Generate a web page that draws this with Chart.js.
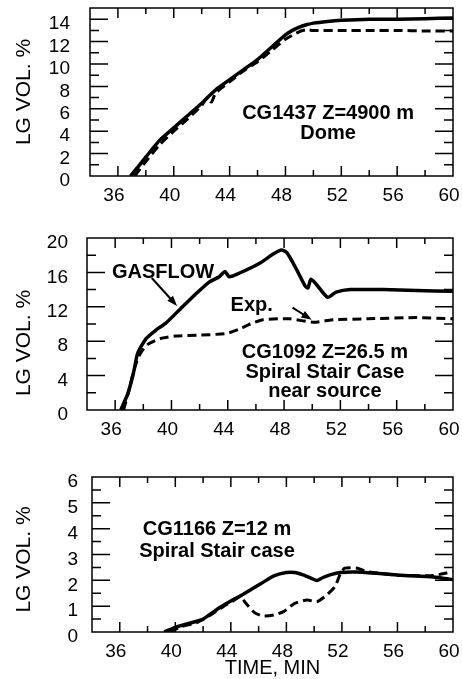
<!DOCTYPE html>
<html>
<head>
<meta charset="utf-8">
<script src="https://cdn.jsdelivr.net/npm/chart.js@4.4.0/dist/chart.umd.min.js"></script>
<style>
  body { margin: 0; background: #fff; width: 462px; height: 679px; overflow: hidden; position: relative; }
  .panel { position: absolute; left: 0; width: 462px; }
</style>
</head>
<body>
<div class="panel" style="top:0;height:215px"><canvas id="c1"></canvas></div>
<div class="panel" style="top:220px;height:225px"><canvas id="c2"></canvas></div>
<div class="panel" style="top:445px;height:234px"><canvas id="c3"></canvas></div>
<script>
// panel 1 - CG1437 dome
const t1Gas = [36.9, 37.5, 38, 39, 40, 41, 42, 42.5, 43, 44, 45, 46, 47, 48, 48.5, 49, 49.5, 50, 51, 52, 54, 56, 58, 60];
const v1Gas = [0, 0.9, 1.7, 3.2, 4.3, 5.4, 6.5, 7.1, 7.7, 8.6, 9.5, 10.4, 11.5, 12.6, 13.0, 13.3, 13.5, 13.65, 13.8, 13.9, 14.0, 14.0, 14.05, 14.1];
const t1Exp = [37.2, 38, 39, 40, 41, 42, 42.4, 42.7, 43, 44, 45, 46, 47, 48, 49, 49.5, 50, 52, 54, 56, 58, 60];
const v1Exp = [0, 1.3, 2.8, 4.0, 5.1, 6.3, 7.0, 6.6, 7.4, 8.4, 9.4, 10.2, 11.2, 12.2, 12.9, 13.05, 13.0, 13.0, 13.0, 13.0, 12.95, 12.95];

// panel 2 - CG1092 spiral stair case near source
const t2Gas = [36.4, 36.9, 37.3, 37.6, 38.2, 38.9, 39.6, 40.6, 41.8, 42.7, 43.4, 43.8, 44.1, 44.8, 46.3, 47.2, 47.8, 48.2, 48.9, 49.5, 49.7, 49.9, 50.3, 51.1, 51.7, 52.7, 55, 57.4, 60];
const v2Gas = [0, 1.9, 4.3, 6.6, 8.3, 9.3, 10.1, 11.7, 13.6, 14.9, 15.5, 16.1, 15.5, 15.9, 17.1, 18.1, 18.6, 18.3, 16.3, 14.4, 14.2, 15.2, 14.6, 13.1, 13.7, 14.0, 14.0, 13.9, 13.8];
const t2Exp = [36.6, 37.0, 37.4, 37.8, 38.3, 39.2, 40.3, 42, 43.9, 44.8, 45.6, 46.5, 48.4, 50.1, 51.5, 53.9, 57.4, 60];
const v2Exp = [0, 2.4, 5.0, 6.6, 7.6, 8.3, 8.6, 8.7, 8.9, 9.4, 10.0, 10.5, 10.6, 10.2, 10.5, 10.6, 10.75, 10.6];

// panel 3 - CG1166 spiral stair case
const t3Gas = [39.2, 40.1, 41.1, 42.0, 43.2, 44.0, 44.7, 45.6, 46.4, 47.1, 48.0, 48.6, 49.2, 49.8, 50.2, 50.6, 51.2, 51.9, 53.0, 54.5, 56.2, 58.6, 60];
const v3Gas = [0, 0.2, 0.35, 0.5, 0.95, 1.2, 1.4, 1.69, 1.95, 2.17, 2.3, 2.3, 2.21, 2.08, 1.99, 2.1, 2.22, 2.3, 2.32, 2.27, 2.2, 2.13, 2.03];
const t3Exp = [39.6, 40.5, 41.5, 42.5, 43.5, 44.3, 44.7, 45.1, 45.7, 46.3, 47.1, 47.8, 48.6, 49.5, 50.2, 50.9, 51.5, 51.9, 52.2, 53.1, 53.8, 56.2, 58.6, 59.5, 60];
const v3Exp = [0, 0.22, 0.35, 0.65, 1.0, 1.25, 1.37, 1.1, 0.75, 0.62, 0.66, 0.79, 1.11, 1.24, 1.17, 1.43, 1.76, 2.27, 2.47, 2.47, 2.34, 2.19, 2.19, 2.28, 2.35];

// labels inside the plots, in data units [text, time, value]
const notes1 = [['CG1437 Z=4900 m', 51.05, 5.6], ['Dome', 51.05, 3.8]];
const notes2 = [['GASFLOW', 39.4, 16.0], ['Exp.', 45.7, 12.1], ['CG1092 Z=26.5 m', 50.9, 6.7], ['Spiral Stair Case', 50.9, 4.4], ['near source', 50.9, 2.1]];
const notes3 = [['CG1166 Z=12 m', 43.0, 3.95], ['Spiral Stair case', 43.0, 3.1]];
const arrows2 = [[38.6, 15.35, 40.4, 12.1], [48.6, 11.9, 49.96, 10.5]];

const FONT = "'Liberation Sans', Arial, Helvetica, sans-serif";
Chart.defaults.font.family = FONT;
Chart.defaults.color = '#000';

function pts(ts, vs) {
    return ts.map((t, i) => ({ x: t, y: vs[i] }));
}

const frameTicks = {
    id: 'frameTicks',
    afterDatasetsDraw(chart, args, o) {
        const ctx = chart.ctx;
        const a = chart.chartArea;
        const x = chart.scales.x, y = chart.scales.y;
        ctx.save();
        ctx.strokeStyle = '#000';
        ctx.lineWidth = 1.5;
        ctx.strokeRect(a.left, a.top, a.right - a.left, a.bottom - a.top);
        ctx.beginPath();
        x.ticks.forEach(t => {
            if (t.value <= x.min || t.value >= x.max) return;
            const px = x.getPixelForValue(t.value);
            const len = t.label ? 10 : 6;
            ctx.moveTo(px, a.bottom); ctx.lineTo(px, a.bottom - len);
            ctx.moveTo(px, a.top); ctx.lineTo(px, a.top + len);
        });
        y.ticks.forEach(t => {
            if (t.value <= y.min || t.value >= y.max) return;
            const py = y.getPixelForValue(t.value);
            const len = t.label ? 18 : 9;
            ctx.moveTo(a.left, py); ctx.lineTo(a.left + len, py);
            ctx.moveTo(a.right, py); ctx.lineTo(a.right - len, py);
        });
        ctx.stroke();

        // annotations
        ctx.fillStyle = '#000';
        ctx.font = 'bold 20px ' + FONT;
        ctx.textAlign = 'center';
        ctx.textBaseline = 'middle';
        (o.notes || []).forEach(n => {
            ctx.fillText(n[0], x.getPixelForValue(n[1]), y.getPixelForValue(n[2]));
        });
        (o.arrows || []).forEach(ar => {
            const x1 = x.getPixelForValue(ar[0]), y1 = y.getPixelForValue(ar[1]);
            const x2 = x.getPixelForValue(ar[2]), y2 = y.getPixelForValue(ar[3]);
            const ang = Math.atan2(y2 - y1, x2 - x1);
            ctx.lineWidth = 2;
            ctx.beginPath();
            ctx.moveTo(x1, y1); ctx.lineTo(x2 - 6 * Math.cos(ang), y2 - 6 * Math.sin(ang));
            ctx.stroke();
            ctx.beginPath();
            ctx.moveTo(x2, y2);
            ctx.lineTo(x2 - 11 * Math.cos(ang - 0.35), y2 - 11 * Math.sin(ang - 0.35));
            ctx.lineTo(x2 - 11 * Math.cos(ang + 0.35), y2 - 11 * Math.sin(ang + 0.35));
            ctx.closePath();
            ctx.fill();
        });

        // y title
        ctx.font = '21px ' + FONT;
        ctx.translate(24, (a.top + a.bottom) / 2 + (o.titleShift || 0));
        ctx.rotate(-Math.PI / 2);
        ctx.fillText('LG VOL. %', 0, 0);
        ctx.restore();
    }
};

function makePanel(id, cfg) {
    new Chart(document.getElementById(id), {
        type: 'line',
        data: {
            datasets: [
                { label: 'GASFLOW', data: pts(cfg.tGas, cfg.vGas), borderColor: '#000', borderWidth: 3.5, pointRadius: 0, tension: 0.2 },
                { label: 'Exp.', data: pts(cfg.tExp, cfg.vExp), borderColor: '#000', borderWidth: 3, borderDash: [9, 5], pointRadius: 0, tension: 0.2 }
            ]
        },
        options: {
            responsive: true,
            maintainAspectRatio: false,
            animation: false,
            events: [],
            layout: { padding: { top: cfg.padTop, right: 9, left: 0, bottom: 0 } },
            plugins: {
                legend: { display: false },
                tooltip: { enabled: false },
                frameTicks: { notes: cfg.notes, arrows: cfg.arrows, titleShift: cfg.titleShift }
            },
            scales: {
                x: {
                    type: 'linear',
                    min: 34, max: 60,
                    grid: { display: false, drawTicks: false },
                    border: { display: false },
                    ticks: {
                        stepSize: 2, autoSkip: false, maxRotation: 0, padding: 8, labelOffset: -4,
                        font: { size: 19 },
                        callback: v => (Math.round(v) % 4 === 0 && v >= 36) ? String(Math.round(v)) : ''
                    },
                    title: { display: !!cfg.xTitle, text: cfg.xTitle || '', font: { size: 20 }, padding: { top: 0, bottom: -1 } },
                    afterFit: s => { s.height = cfg.xHeight; s.paddingLeft = 0; s.paddingRight = 0; }
                },
                y: {
                    type: 'linear',
                    min: 0, max: cfg.yMax,
                    grid: { display: false, drawTicks: false },
                    border: { display: false },
                    ticks: {
                        stepSize: cfg.yStep, autoSkip: false, padding: cfg.yPad, labelOffset: 5,
                        font: { size: 19 },
                        callback: v => (Math.abs(v / cfg.yLabelStep - Math.round(v / cfg.yLabelStep)) < 1e-6 && v <= cfg.yLabelMax) ? String(v) : ''
                    },
                    afterFit: s => { s.width = cfg.yWidth; s.paddingTop = 0; s.paddingBottom = 0; }
                }
            }
        },
        plugins: [frameTicks]
    });
}

makePanel('c1', {
    tGas: t1Gas, vGas: v1Gas, tExp: t1Exp, vExp: v1Exp,
    notes: notes1, arrows: [],
    padTop: 8, xHeight: 39, yWidth: 90, yPad: 20,
    yMax: 15, yStep: 1, yLabelStep: 2, yLabelMax: 14, titleShift: 0
});
makePanel('c2', {
    tGas: t2Gas, vGas: v2Gas, tExp: t2Exp, vExp: v2Exp,
    notes: notes2, arrows: arrows2,
    padTop: 18, xHeight: 35, yWidth: 87, yPad: 19,
    yMax: 20, yStep: 2, yLabelStep: 4, yLabelMax: 20, titleShift: 19
});
makePanel('c3', {
    tGas: t3Gas, vGas: v3Gas, tExp: t3Exp, vExp: v3Exp,
    notes: notes3, arrows: [],
    padTop: 32, xHeight: 47, yWidth: 92, yPad: 14,
    yMax: 6, yStep: 0.5, yLabelStep: 1, yLabelMax: 6, titleShift: 5,
    xTitle: 'TIME, MIN'
});
</script>
</body>
</html>
